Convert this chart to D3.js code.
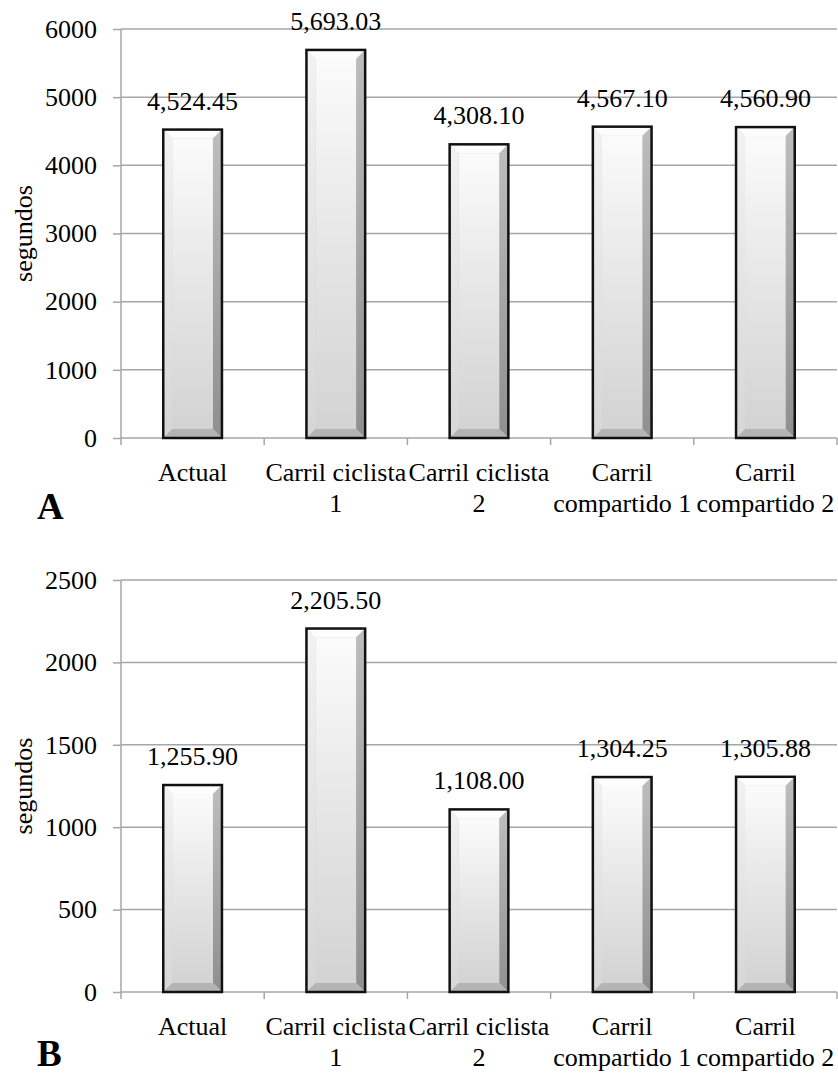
<!DOCTYPE html>
<html>
<head>
<meta charset="utf-8">
<script src="https://cdn.jsdelivr.net/npm/d3@7"></script>
<style>
  body { margin: 0; background: #fff; }
</style>
</head>
<body>
<svg id="chart" width="838" height="1074" style="font-family: 'Liberation Serif', 'Times New Roman', Times, 'DejaVu Serif', serif;"></svg>
<script>
// categories (label lines)
var categories = ["Actual", "Carril ciclista 1", "Carril ciclista 2", "Carril compartido 1", "Carril compartido 2"];
var categoryLines = [["Actual"], ["Carril ciclista", "1"], ["Carril ciclista", "2"], ["Carril", "compartido 1"], ["Carril", "compartido 2"]];

// panel A values (segundos)
var valuesA = [4524.45, 5693.03, 4308.10, 4567.10, 4560.90];
var ticksA = [0, 1000, 2000, 3000, 4000, 5000, 6000];

// panel B values (segundos)
var valuesB = [1255.90, 2205.50, 1108.00, 1304.25, 1305.88];
var ticksB = [0, 500, 1000, 1500, 2000, 2500];

var svg = d3.select("#chart");
var serif = "'Liberation Serif', 'Times New Roman', Times, 'DejaVu Serif', serif";
var gridColor = "#a6a6a6";
var fmt = d3.format(",.2f");

// gradients shared by all bars
var defs = svg.append("defs");
function grad(id, vertical, stops) {
  var g = defs.append("linearGradient").attr("id", id)
    .attr("x1", 0).attr("y1", 0).attr("x2", vertical ? 0 : 1).attr("y2", vertical ? 1 : 0);
  stops.forEach(function (s) { g.append("stop").attr("offset", s[0]).attr("stop-color", s[1]); });
}
grad("face", true, [[0, "#fbfbfb"], [0.5, "#e6e6e6"], [1, "#d3d3d3"]]);
grad("leftBevel", true, [[0, "#f2f2f2"], [1, "#d6d6d6"]]);
grad("rightBevel", true, [[0, "#bdbdbd"], [1, "#8f8f8f"]]);

function txt(sel) {
  return sel.style("font-family", serif).attr("fill", "#000");
}

function drawPanel(opts) {
  var x = d3.scaleBand().domain(categories).range([121, 837]);
  var y = d3.scaleLinear().domain([0, opts.max]).range([opts.bottom, opts.top]);
  var g = svg.append("g");

  // gridlines
  g.append("g").selectAll("line").data(opts.ticks.slice(1)).enter().append("line")
    .attr("x1", 121).attr("x2", 837)
    .attr("y1", function (d) { return y(d); }).attr("y2", function (d) { return y(d); })
    .attr("stroke", gridColor).attr("stroke-width", 1.5);

  // y axis
  var ya = g.append("g").attr("transform", "translate(121,0)")
    .call(d3.axisLeft(y).tickValues(opts.ticks).tickSize(8).tickPadding(16).tickFormat(d3.format("d")));
  ya.attr("font-family", null).attr("font-size", null);
  ya.select(".domain").attr("stroke", gridColor).attr("stroke-width", 1.5)
    .attr("d", "M0," + opts.top + "V" + (opts.bottom + 7));
  ya.selectAll(".tick line").attr("stroke", gridColor).attr("stroke-width", 1.5);
  txt(ya.selectAll(".tick text")).style("font-size", "26px");

  // x axis line + boundary ticks
  g.append("line").attr("x1", 121).attr("x2", 837).attr("y1", opts.bottom).attr("y2", opts.bottom)
    .attr("stroke", gridColor).attr("stroke-width", 1.5);
  var bounds = categories.map(function (c) { return x(c) + x.bandwidth(); });
  g.append("g").selectAll("line").data(bounds).enter().append("line")
    .attr("x1", function (d) { return d; }).attr("x2", function (d) { return d; })
    .attr("y1", opts.bottom).attr("y2", opts.bottom + 7)
    .attr("stroke", gridColor).attr("stroke-width", 1.5);

  // category labels
  var lab = txt(g.append("g").selectAll("text").data(categories).enter().append("text"))
    .attr("text-anchor", "middle").style("font-size", "26px")
    .attr("x", function (c) { return x(c) + x.bandwidth() / 2; })
    .attr("y", opts.bottom + 43);
  lab.each(function (c, i) {
    var t = d3.select(this);
    categoryLines[i].forEach(function (line, k) {
      t.append("tspan").attr("x", x(c) + x.bandwidth() / 2).attr("dy", k === 0 ? 0 : 31).text(line);
    });
  });

  // bars with bevel
  var bw = x.bandwidth() * 0.41;
  var bars = g.append("g").selectAll("g").data(opts.values).enter().append("g");
  bars.each(function (v, i) {
    var b = d3.select(this);
    var x0 = x(categories[i]) + (x.bandwidth() - bw) / 2, x1 = x0 + bw;
    var y0 = y(v), y1 = y(0);
    var s = 9;
    b.append("rect").attr("x", x0).attr("y", y0).attr("width", bw).attr("height", y1 - y0).attr("fill", "#d0d0d0");
    b.append("rect").attr("x", x0 + s).attr("y", y0 + s).attr("width", bw - 2 * s).attr("height", y1 - y0 - 2 * s).attr("fill", "url(#face)");
    b.append("polygon").attr("points", [[x0, y0], [x1, y0], [x1 - s, y0 + s], [x0 + s, y0 + s]].join(" ")).attr("fill", "#fdfdfd");
    b.append("polygon").attr("points", [[x0, y0], [x0 + s, y0 + s], [x0 + s, y1 - s], [x0, y1]].join(" ")).attr("fill", "url(#leftBevel)");
    b.append("polygon").attr("points", [[x1, y0], [x1, y1], [x1 - s, y1 - s], [x1 - s, y0 + s]].join(" ")).attr("fill", "url(#rightBevel)");
    b.append("polygon").attr("points", [[x0, y1], [x1, y1], [x1 - s, y1 - s], [x0 + s, y1 - s]].join(" ")).attr("fill", "#b4b4b4");
    b.append("rect").attr("x", x0).attr("y", y0).attr("width", bw).attr("height", y1 - y0)
      .attr("fill", "none").attr("stroke", "#111").attr("stroke-width", 2.5);
    txt(b.append("text")).attr("text-anchor", "middle").style("font-size", "26px")
      .attr("x", x0 + bw / 2).attr("y", y0 - 20).text(fmt(v));
  });

  // y title
  txt(g.append("text")).attr("text-anchor", "middle").style("font-size", "26px")
    .attr("transform", "translate(32," + ((opts.top + opts.bottom) / 2) + ") rotate(-90)")
    .text("segundos");

  // panel letter
  txt(g.append("text")).attr("x", 37).attr("y", opts.bottom + opts.letterDy).style("font-size", "37px")
    .style("font-weight", "bold").text(opts.letter);
}

drawPanel({ values: valuesA, ticks: ticksA, max: 6000, top: 29, bottom: 438, letter: "A", letterDy: 81 });
drawPanel({ values: valuesB, ticks: ticksB, max: 2500, top: 580, bottom: 992, letter: "B", letterDy: 74 });
</script>
</body>
</html>
